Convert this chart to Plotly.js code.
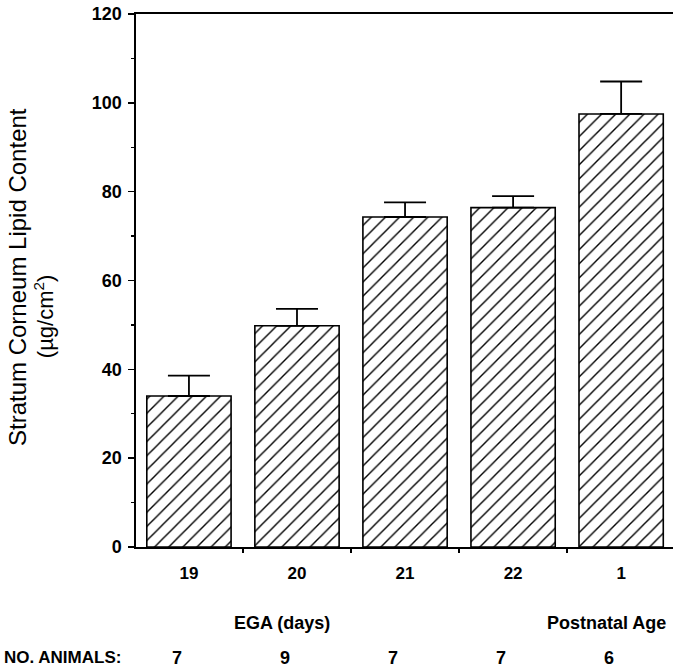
<!DOCTYPE html>
<html>
<head>
<meta charset="utf-8">
<script src="https://cdn.plot.ly/plotly-3.0.1.min.js"></script>
<style>html,body{margin:0;padding:0;background:#fff;}#chart{width:673px;height:669px;}</style>
</head>
<body>
<div id="chart"></div>
<script>
// Data
var categories = ["19", "20", "21", "22", "1"];
var lipidContent = [34.0, 49.8, 74.3, 76.4, 97.5];
var errorUpper = [4.6, 3.8, 3.3, 2.6, 7.3];
var animalCounts = ["7", "9", "7", "7", "6"];
var yTickVals = [0, 20, 40, 60, 80, 100, 120];
var yTitle = "Stratum Corneum Lipid Content";
var yUnits = "(\u00b5g/cm<sup>2</sup>)";
var groupLabels = [{text: "EGA (days)", cat: 1}, {text: "Postnatal Age", cat: 4}];
var countsLabel = "NO. ANIMALS:";

var FONT = "Liberation Sans, Arial, Helvetica, sans-serif";
var xIdx = categories.map(function(_, i){ return i; });

var trace = {
  type: "bar",
  x: xIdx,
  y: lipidContent,
  width: 0.78,
  marker: {
    color: "#ffffff",
    line: {color: "#000000", width: 1.6},
    pattern: {shape: "/", fgcolor: "#000000", bgcolor: "#ffffff", size: 10, solidity: 0.14}
  },
  error_y: {
    type: "data",
    symmetric: false,
    array: errorUpper,
    arrayminus: errorUpper.map(function(){ return 0; }),
    color: "#000000",
    thickness: 1.8,
    width: 21
  },
  hoverinfo: "skip"
};

var annotations = [];
annotations.push({
  text: yTitle, xref: "paper", yref: "paper", x: -0.2197, y: 0.5066,
  xanchor: "center", yanchor: "middle", textangle: -90, showarrow: false,
  font: {family: FONT, size: 24, color: "#000"}
});
annotations.push({
  text: yUnits, xref: "paper", yref: "paper", x: -0.171, y: 0.4334,
  xanchor: "center", yanchor: "middle", textangle: -90, showarrow: false,
  font: {family: FONT, size: 22, color: "#000"}
});
groupLabels.forEach(function(g){
  annotations.push({
    text: "<b>" + g.text + "</b>", xref: "x", yref: "paper", x: g.cat, xshift: -15, y: -0.1426,
    xanchor: "center", yanchor: "middle", showarrow: false,
    font: {family: FONT, size: 18, color: "#000"}
  });
});
annotations.push({
  text: "<b>" + countsLabel + "</b>", xref: "paper", yref: "paper", x: -0.2495, y: -0.2082,
  xanchor: "left", yanchor: "middle", showarrow: false,
  font: {family: FONT, size: 17, color: "#000"}
});
animalCounts.forEach(function(c, i){
  annotations.push({
    text: "<b>" + c + "</b>", xref: "x", yref: "paper", x: i, xshift: -12, y: -0.2082,
    xanchor: "center", yanchor: "middle", showarrow: false,
    font: {family: FONT, size: 18, color: "#000"}
  });
});

var layout = {
  width: 673, height: 669,
  margin: {l: 136, r: 0, t: 14, b: 122, pad: 0},
  paper_bgcolor: "#ffffff", plot_bgcolor: "#ffffff",
  showlegend: false,
  font: {family: FONT, color: "#000"},
  xaxis: {
    type: "linear",
    range: [-0.49, 4.48],
    tickmode: "array",
    tickvals: xIdx,
    ticktext: categories.map(function(c){ return "<b>" + c + "</b>"; }),
    ticks: "",
    showline: true, linecolor: "#000", linewidth: 1.6, mirror: true,
    showgrid: false, zeroline: false,
    tickfont: {family: FONT, size: 17, color: "#000"},
    ticklabelstandoff: 10,
    minor: {tickmode: "array", tickvals: [0.5, 1.5, 2.5, 3.5], ticks: "outside", ticklen: 4, tickwidth: 1.4, tickcolor: "#000", showgrid: false}
  },
  yaxis: {
    range: [0, 120],
    tickmode: "array",
    tickvals: yTickVals,
    ticks: "outside", ticklen: 6, tickwidth: 1.4, tickcolor: "#000",
    showline: true, linecolor: "#000", linewidth: 1.6,
    showgrid: false, zeroline: false,
    tickfont: {family: FONT, size: 18, color: "#000", weight: "bold"},
    ticklabelstandoff: 3,
    minor: {dtick: 10, ticks: "outside", ticklen: 3, tickwidth: 1.2, tickcolor: "#000", showgrid: false}
  },
  annotations: annotations
};

Plotly.newPlot("chart", [trace], layout, {displayModeBar: false, staticPlot: true});
</script>
</body>
</html>
